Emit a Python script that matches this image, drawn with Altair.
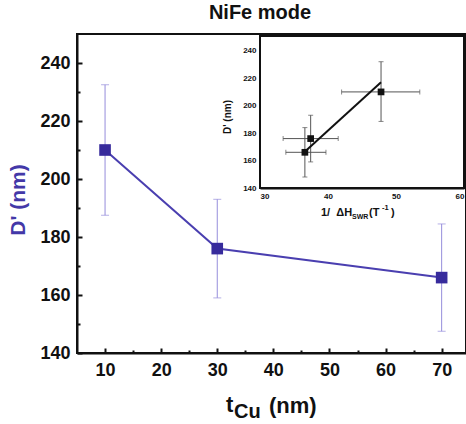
import altair as alt
import pandas as pd

# ---------------- data ----------------
t_cu = [10, 30, 70]
d_main = [210, 176, 166]
d_main_lo = [187.5, 159, 147.5]
d_main_hi = [232.5, 193, 184.5]

inv_dh = [36.6, 37.45, 47.8]
inv_dh_lo = [33.8, 33.4, 42.0]
inv_dh_hi = [39.7, 41.5, 53.5]
d_inset = [166, 176, 210]
d_inset_lo = [148, 159, 188.5]
d_inset_hi = [184, 193, 232]

fit_x = [36.5, 47.8]
fit_y = [166, 217]

x_major = [10, 20, 30, 40, 50, 60, 70]
x_minor = [15, 25, 35, 45, 55, 65]
y_major = [140, 160, 180, 200, 220, 240]
y_minor = [150, 170, 190, 210, 230]
ix_labels = [30, 40, 50, 60]
ix_ticks = [35, 40, 45, 50, 55]
iy_labels = [140, 160, 180, 200, 220, 240]
iy_ticks = [150, 160, 170, 180, 190, 200, 210, 220, 230, 240]

# ---------------- geometry / style ----------------
W, H = 389, 319
PADL, PADT = 77, 34
FONT = "Liberation Sans"
MARK = "#372b9c"
LINE = "#4a3fb0"
ERR = "#958ddb"
LABEL = "#4338a8"
IX0, IX1 = 183, 387
IY0, IY1 = 154, 3

df_main = pd.DataFrame({"t": t_cu, "d": d_main, "lo": d_main_lo, "hi": d_main_hi})
df_in = pd.DataFrame({"x": inv_dh, "xlo": inv_dh_lo, "xhi": inv_dh_hi,
                      "d": d_inset, "lo": d_inset_lo, "hi": d_inset_hi})
df_fit = pd.DataFrame({"x": fit_x, "d": fit_y})
one = pd.DataFrame({"a": [0]})


def mx():
    return alt.Scale(domain=[5, 74.34], range=[0, W], nice=False, zero=False)


def my():
    return alt.Scale(domain=[140, 250], range=[H, 0], nice=False, zero=False)


def ix():
    return alt.Scale(domain=[30, 60], range=[IX0, IX1], nice=False, zero=False)


def iy():
    return alt.Scale(domain=[140, 250], range=[IY0, IY1], nice=False, zero=False)


lab = dict(labelFont=FONT, labelFontWeight="bold", labelColor="#111111", grid=False, title=None)

main_x_axis = alt.Axis(orient="bottom", values=x_major, ticks=False, domain=True,
                       domainColor="#111111", domainWidth=2, labelFontSize=18,
                       labelPadding=8, **lab)
main_y_axis = alt.Axis(orient="left", values=y_major, ticks=False, domain=True,
                       domainColor="#111111", domainWidth=2, labelFontSize=18,
                       labelPadding=7, **lab)
tick_x_major = alt.Axis(orient="bottom", values=x_major, labels=False, domain=False,
                        ticks=True, tickSize=5, tickWidth=2, tickColor="#111111",
                        offset=-5, grid=False, title=None)
tick_y_major = alt.Axis(orient="left", values=y_major, labels=False, domain=False,
                        ticks=True, tickSize=5, tickWidth=2, tickColor="#111111",
                        offset=-5, grid=False, title=None)
tick_x_minor = alt.Axis(orient="bottom", values=x_minor, labels=False, domain=False,
                        ticks=True, tickSize=3, tickWidth=2, tickColor="#111111",
                        offset=-3, grid=False, title=None)
tick_y_minor = alt.Axis(orient="left", values=y_minor, labels=False, domain=False,
                        ticks=True, tickSize=3, tickWidth=2, tickColor="#111111",
                        offset=-3, grid=False, title=None)

in_x_axis = alt.Axis(orient="bottom", values=ix_labels, ticks=False, domain=True,
                     domainColor="#111111", domainWidth=2, labelFontSize=8,
                     labelPadding=4, offset=-(H - IY0), **lab)
in_y_axis = alt.Axis(orient="left", values=iy_labels, ticks=False, domain=True,
                     domainColor="#111111", domainWidth=2, labelFontSize=8,
                     labelPadding=4, offset=-IX0, **lab)
in_x_ticks = alt.Axis(orient="bottom", values=ix_ticks, labels=False, domain=False,
                      ticks=True, tickSize=3, tickWidth=1.5, tickColor="#111111",
                      offset=-(H - IY0) - 3, grid=False, title=None)
in_y_ticks = alt.Axis(orient="left", values=iy_ticks, labels=False, domain=False,
                      ticks=True, tickSize=3, tickWidth=1.5, tickColor="#111111",
                      offset=-IX0 - 3, grid=False, title=None)

# ---------------- main plot ----------------
bm = alt.Chart(df_main)
m_err = bm.mark_rule(color=ERR, strokeWidth=1).encode(
    x=alt.X("t:Q", scale=mx(), axis=tick_x_minor),
    y=alt.Y("lo:Q", scale=my(), axis=tick_y_minor), y2="hi:Q")
m_cap_lo = bm.mark_tick(orient="horizontal", size=8, thickness=1, color=ERR).encode(
    x=alt.X("t:Q", scale=mx(), axis=None), y=alt.Y("lo:Q", scale=my(), axis=None))
m_cap_hi = bm.mark_tick(orient="horizontal", size=8, thickness=1, color=ERR).encode(
    x=alt.X("t:Q", scale=mx(), axis=None), y=alt.Y("hi:Q", scale=my(), axis=None))
m_line = bm.mark_line(color=LINE, strokeWidth=2).encode(
    x=alt.X("t:Q", scale=mx(), axis=main_x_axis),
    y=alt.Y("d:Q", scale=my(), axis=main_y_axis))
m_pts = bm.mark_square(size=135, color=MARK, opacity=1).encode(
    x=alt.X("t:Q", scale=mx(), axis=tick_x_major),
    y=alt.Y("d:Q", scale=my(), axis=tick_y_major))

# ---------------- inset ----------------
box = alt.Chart(one).mark_rect(fill="white", stroke="#111111", strokeWidth=2).encode(
    x=alt.value(IX0), x2=alt.value(IX1), y=alt.value(IY1 - 1), y2=alt.value(IY0))

bi = alt.Chart(df_in)
ECOL = "#555555"
i_xerr = bi.mark_rule(color=ECOL, strokeWidth=1).encode(
    x=alt.X("xlo:Q", scale=ix(), axis=None), x2="xhi:Q",
    y=alt.Y("d:Q", scale=iy(), axis=None))
i_yerr = bi.mark_rule(color=ECOL, strokeWidth=1).encode(
    x=alt.X("x:Q", scale=ix(), axis=None),
    y=alt.Y("lo:Q", scale=iy(), axis=None), y2="hi:Q")
i_cap_ylo = bi.mark_tick(orient="horizontal", size=5, thickness=1, color=ECOL).encode(
    x=alt.X("x:Q", scale=ix(), axis=None), y=alt.Y("lo:Q", scale=iy(), axis=None))
i_cap_yhi = bi.mark_tick(orient="horizontal", size=5, thickness=1, color=ECOL).encode(
    x=alt.X("x:Q", scale=ix(), axis=None), y=alt.Y("hi:Q", scale=iy(), axis=None))
i_cap_xlo = bi.mark_tick(orient="vertical", size=5, thickness=1, color=ECOL).encode(
    x=alt.X("xlo:Q", scale=ix(), axis=None), y=alt.Y("d:Q", scale=iy(), axis=None))
i_cap_xhi = bi.mark_tick(orient="vertical", size=5, thickness=1, color=ECOL).encode(
    x=alt.X("xhi:Q", scale=ix(), axis=None), y=alt.Y("d:Q", scale=iy(), axis=None))
i_fit = alt.Chart(df_fit).mark_line(color="#111111", strokeWidth=2).encode(
    x=alt.X("x:Q", scale=ix(), axis=in_x_ticks),
    y=alt.Y("d:Q", scale=iy(), axis=in_y_ticks))
i_pts = bi.mark_square(size=45, color="#111111", opacity=1).encode(
    x=alt.X("x:Q", scale=ix(), axis=in_x_axis),
    y=alt.Y("d:Q", scale=iy(), axis=in_y_axis))


# ---------------- texts ----------------
def txt(s, x, y, size, angle=0, align="left", baseline="alphabetic", color="#111111"):
    return alt.Chart(one).mark_text(
        text=s, font=FONT, fontWeight="bold", fontSize=size, angle=angle,
        align=align, baseline=baseline, color=color
    ).encode(x=alt.value(x), y=alt.value(y))


texts = [
    txt("NiFe mode", 260 - PADL, 19 - PADT, 20, align="center"),
    txt("D' (nm)", 19 - PADL, 200 - PADT, 21, angle=270, align="center",
        baseline="middle", color=LABEL),
    txt("t", 226 - PADL, 412 - PADT, 22),
    txt("Cu", 234 - PADL, 418 - PADT, 20),
    txt("(nm)", 269 - PADL, 413 - PADT, 22),
    txt("D' (nm)", 228 - PADL, 117 - PADT, 10, angle=270, align="center",
        baseline="middle"),
    txt("1/\u00a0\u00a0\u0394H", 321 - PADL, 216 - PADT, 11),
    txt("SWR", 352 - PADL, 219 - PADT, 7),
    txt("(T", 369 - PADL, 216 - PADT, 11),
    txt("-1", 382 - PADL, 210 - PADT, 7.5),
    txt(")", 391 - PADL, 216 - PADT, 11),
]

chart = alt.layer(
    m_err, m_cap_lo, m_cap_hi, m_line, m_pts,
    box, i_xerr, i_yerr, i_cap_ylo, i_cap_yhi, i_cap_xlo, i_cap_xhi, i_fit, i_pts,
    *texts
).resolve_scale(x="independent", y="independent").resolve_axis(
    x="independent", y="independent"
).properties(
    width=W, height=H,
    autosize=alt.AutoSizeParams(type="none"),
    padding={"left": PADL, "top": PADT, "right": 0, "bottom": 424 - PADT - H},
    background="white",
).configure_view(stroke="#111111", strokeWidth=2).configure_axis(grid=False)

chart.save("out.html", embed_options={"renderer": "svg", "actions": False})
